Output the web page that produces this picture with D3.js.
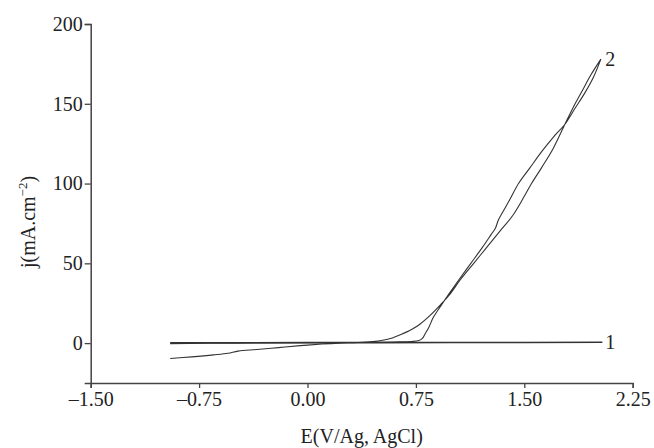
<!DOCTYPE html>
<html>
<head>
<meta charset="utf-8">
<script src="https://cdn.jsdelivr.net/npm/d3@7"></script>
<style>
  html, body { margin: 0; padding: 0; background: #fff; }
  svg { display: block; }
  text { font-family: "Liberation Serif", "Times New Roman", serif; fill: #222; }
</style>
</head>
<body>
<svg id="chart" width="654" height="448"></svg>
<script>
// Potential (V vs Ag/AgCl) and current density (mA/cm^2) samples

// Curve 1: flat response over the full sweep
const curve1E = [-0.95, -0.5, 0.0, 0.5, 1.0, 1.5, 2.04];
const curve1J = [0.2, 0.2, 0.3, 0.3, 0.4, 0.4, 0.5];

// Curve 2, forward sweep: cathodic region then early anodic rise up to the vertex
const curve2FwdE = [-0.95, -0.80, -0.65, -0.55, -0.48, -0.35, -0.20, -0.05, 0.10, 0.22, 0.35, 0.45, 0.52, 0.58, 0.65, 0.72, 0.78, 0.85, 0.92, 0.98, 1.06, 1.15, 1.24, 1.33, 1.42, 1.50, 1.55, 1.62, 1.70, 1.78, 1.84, 1.90, 1.96, 2.03];
const curve2FwdJ = [-9.6, -8.6, -7.4, -6.4, -5.0, -4.0, -2.8, -1.6, -0.6, 0.0, 0.4, 1.0, 1.8, 3.0, 5.5, 8.5, 12, 17.5, 24, 30, 40, 50, 60, 70, 80, 92, 100, 110, 122, 137, 148, 158, 168, 178];

// Curve 2, reverse sweep: from the vertex back down, late knee, then flat
const curve2RevE = [2.03, 1.98, 1.92, 1.85, 1.78, 1.70, 1.62, 1.54, 1.46, 1.40, 1.35, 1.32, 1.30, 1.27, 1.21, 1.13, 1.05, 0.98, 0.92, 0.87, 0.84, 0.815, 0.795, 0.77, 0.72, 0.60, 0.45, 0.30, 0.0, -0.5, -0.95];
const curve2RevJ = [178, 167, 157, 147, 137, 129, 120, 110, 100, 90, 82, 77, 72, 68, 60, 50, 40, 31, 23, 16, 10, 6, 3, 1.6, 1.0, 0.7, 0.5, 0.4, 0.2, 0.0, -0.3];

const xTicks = [-1.50, -0.75, 0.00, 0.75, 1.50, 2.25];
const yTicks = [0, 50, 100, 150, 200];

const curveLabels = [
  { text: "1", E: 2.04, j: 0.5 },
  { text: "2", E: 2.04, j: 178 }
];

const svg = d3.select("#chart");
const margin = { left: 90.7, right: 654 - 632.7, top: 24, bottom: 448 - 383 };
const width = 654, height = 448;

const x = d3.scaleLinear().domain([-1.5, 2.25]).range([margin.left, width - margin.right]);
const y = d3.scaleLinear().domain([-25, 200]).range([height - margin.bottom, margin.top]);

const axisColor = "#444";

// X axis
const gx = svg.append("g")
  .attr("transform", `translate(0,${y(-25)})`)
  .call(d3.axisBottom(x).tickValues(xTicks).tickSize(5).tickPadding(4)
    .tickFormat(d => (d < 0 ? "\u2013" : "") + Math.abs(d).toFixed(2)));
// Y axis
const gy = svg.append("g")
  .attr("transform", `translate(${x(-1.5)},0)`)
  .call(d3.axisLeft(y).tickValues(yTicks).tickSize(6).tickPadding(2).tickFormat(d3.format("d")));

[gx, gy].forEach(g => {
  g.select(".domain").attr("stroke", axisColor).attr("stroke-width", 1.5);
  g.selectAll(".tick line").attr("stroke", axisColor).attr("stroke-width", 1.3);
  g.selectAll(".tick text")
    .attr("font-family", "Liberation Serif, serif")
    .attr("font-size", 20)
    .attr("fill", "#222");
});

// Axis titles
svg.append("text")
  .attr("x", (x(-1.5) + x(2.25)) / 2)
  .attr("y", 443)
  .attr("text-anchor", "middle")
  .attr("font-size", 20)
  .text("E(V/Ag, AgCl)");

const yTitle = svg.append("text")
  .attr("transform", `translate(35,222) rotate(-90)`)
  .attr("text-anchor", "middle")
  .attr("font-size", 20);
yTitle.append("tspan").text("j(mA.cm");
yTitle.append("tspan").attr("font-size", 13).attr("dy", -8).text("\u22122");
yTitle.append("tspan").attr("dy", 8).text(")");

// Curves
const line = d3.line().x(d => x(d[0])).y(d => y(d[1])).curve(d3.curveLinear);

const c1 = curve1E.map((e, i) => [e, curve1J[i]]);
const c2 = curve2FwdE.map((e, i) => [e, curve2FwdJ[i]])
  .concat(curve2RevE.map((e, i) => [e, curve2RevJ[i]]));

svg.append("path")
  .datum(c2)
  .attr("fill", "none")
  .attr("stroke", "#333")
  .attr("stroke-width", 1.1)
  .attr("d", d3.line().x(d => x(d[0])).y(d => y(d[1])).curve(d3.curveCatmullRom.alpha(0.5)));

svg.append("path")
  .datum(c1)
  .attr("fill", "none")
  .attr("stroke", "#333")
  .attr("stroke-width", 1.6)
  .attr("d", line);

// Curve number labels
svg.selectAll(".clabel")
  .data(curveLabels)
  .join("text")
  .attr("class", "clabel")
  .attr("x", d => x(d.E) + 3)
  .attr("y", d => y(d.j) + 7)
  .attr("font-size", 20)
  .text(d => d.text);
</script>
</body>
</html>
